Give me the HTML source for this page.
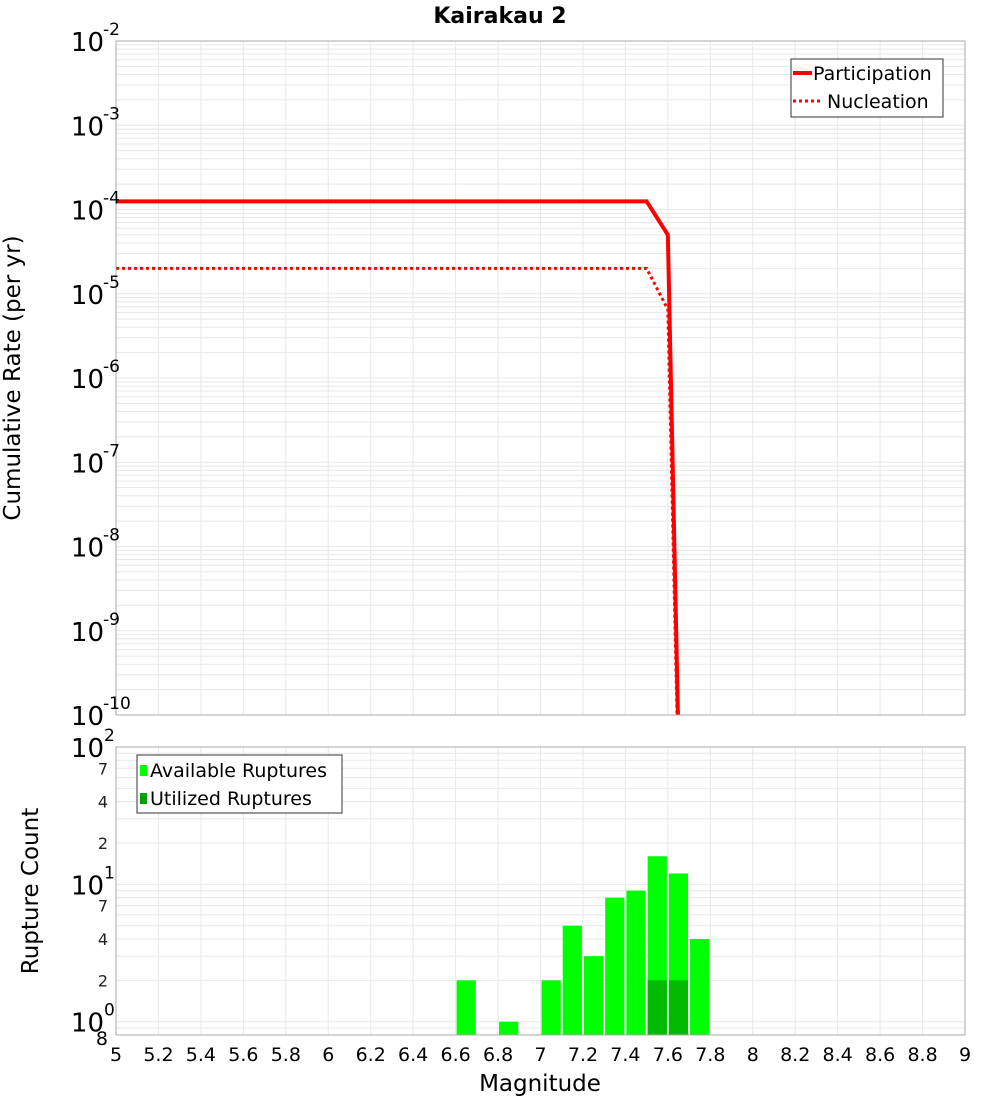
<!DOCTYPE html>
<html><head><meta charset="utf-8"><style>
html,body{margin:0;background:#fff;width:1000px;height:1100px;overflow:hidden;}
svg{display:block;font-family:"DejaVu Sans","Liberation Sans",sans-serif;overflow:hidden;}
</style></head><body>
<svg id="chart" width="1000" height="1100"></svg>
<script>
// ---- data ----
const magX = [5.0, 7.5, 7.6, 7.7];
const participation = [1.25e-4, 1.25e-4, 5.0e-5, 5e-17];
const nucleation = [2.0e-5, 2.0e-5, 6.5e-6, 5e-17];
const binStarts = [6.6, 6.8, 7.0, 7.1, 7.2, 7.3, 7.4, 7.5, 7.6, 7.7];
const available = [2, 1, 2, 5, 3, 8, 9, 16, 12, 4];
const utilBins = [7.5, 7.6];
const utilized = [2, 2];
const xTicks = [5,5.2,5.4,5.6,5.8,6,6.2,6.4,6.6,6.8,7,7.2,7.4,7.6,7.8,8,8.2,8.4,8.6,8.8,9];
const topExps = [-2,-3,-4,-5,-6,-7,-8,-9,-10];
const botMinor = [2,4,7];

const NS="http://www.w3.org/2000/svg";
const svg=document.getElementById('chart');
function el(tag,attrs,parent){const e=document.createElementNS(NS,tag);for(const k in attrs)e.setAttribute(k,attrs[k]);(parent||svg).appendChild(e);return e;}
const L=116,R=965,T1=41,B1=715,T2=747,B2=1035;
const x=m=>L+(m-5)/4*(R-L);
const yTop=v=>T1+(-2-Math.log10(v))/8*(B1-T1);
const yBot=v=>T2+(2-Math.log10(v))/(2-Math.log10(0.8))*(B2-T2);

let t=el('text',{x:500,y:23,'text-anchor':'middle','font-size':22,'font-weight':'bold'});t.textContent='Kairakau 2';


const defs=el('defs',{});
const c1=el('clipPath',{id:'c1'},defs);el('rect',{x:L,y:T1,width:R-L,height:B1-T1},c1);
const c2=el('clipPath',{id:'c2'},defs);el('rect',{x:L,y:T2,width:R-L,height:B2-T2},c2);

const g1=el('g',{'clip-path':'url(#c1)'});
for(let e=-10;e<-2;e++)for(let k=1;k<10;k++){const yy=yTop(k*Math.pow(10,e));el('line',{x1:L,x2:R,y1:yy,y2:yy,stroke:'#e8e8e8','stroke-width':1},g1);}
xTicks.forEach(m=>el('line',{x1:x(m),x2:x(m),y1:T1,y2:B1,stroke:'#e8e8e8'},g1));
const g2=el('g',{'clip-path':'url(#c2)'});
for(let e=-1;e<2;e++)for(let k=1;k<10;k++){const yy=yBot(k*Math.pow(10,e));el('line',{x1:L,x2:R,y1:yy,y2:yy,stroke:'#e8e8e8'},g2);}
xTicks.forEach(m=>el('line',{x1:x(m),x2:x(m),y1:T2,y2:B2,stroke:'#e8e8e8'},g2));

const lg=el('g',{'clip-path':'url(#c1)'});
let p=el('polyline',{points:magX.map((m,i)=>x(m)+','+yTop(participation[i])).join(' '),fill:'none',stroke:'#ff0000','stroke-width':4},lg);

let n=el('polyline',{points:magX.map((m,i)=>x(m)+','+yTop(nucleation[i])).join(' '),fill:'none',stroke:'#ff0000','stroke-width':3,'stroke-dasharray':'3,3'},lg);


const bg=el('g',{'clip-path':'url(#c2)'});
binStarts.forEach((m,i)=>{const r=el('rect',{x:x(m)+1,y:yBot(available[i]),width:x(m+0.1)-x(m)-2,height:B2-yBot(available[i]),fill:'#00ff00'},bg);
});
utilBins.forEach((m,i)=>{const r=el('rect',{x:x(m)+1,y:yBot(utilized[i]),width:x(m+0.1)-x(m)-2,height:B2-yBot(utilized[i]),fill:'#00bb00'},bg);
});

el('rect',{x:L,y:T1,width:R-L,height:B1-T1,fill:'none',stroke:'#aaa'});
el('rect',{x:L,y:T2,width:R-L,height:B2-T2,fill:'none',stroke:'#aaa'});

topExps.forEach(e=>{const yy=yTop(Math.pow(10,e));
 const tx=el('text',{x:104,y:yy+10,'text-anchor':'end','font-size':26});tx.textContent='10';
 
 const sp=el('text',{x:103,y:yy-6,'font-size':17});sp.textContent=String(e);
 });
[2,1,0].forEach(e=>{const yy=yBot(Math.pow(10,e));
 const tx=el('text',{x:104,y:yy+10,'text-anchor':'end','font-size':26});tx.textContent='10';
 
 const sp=el('text',{x:104,y:yy-6,'font-size':17});sp.textContent=String(e);
 });
[1,10].forEach(base=>botMinor.forEach(k=>{const yy=yBot(k*base);
 const tx=el('text',{x:108,y:yy+6,'text-anchor':'end','font-size':16,fill:'#222'});tx.textContent=String(k);
 }));
let e8=el('text',{x:108,y:B2+10,'text-anchor':'end','font-size':19});e8.textContent='8';


xTicks.forEach(m=>{const tx=el('text',{x:x(m),y:1061,'text-anchor':'middle','font-size':19});tx.textContent=String(m);
 });

let xt=el('text',{x:540,y:1091,'text-anchor':'middle','font-size':23});xt.textContent='Magnitude';

let yt=el('text',{x:0,y:0,'text-anchor':'middle','font-size':23,transform:'translate(26,378) rotate(-90)'});yt.textContent='Cumulative Rate (per yr)';

let yt2=el('text',{x:0,y:0,'text-anchor':'middle','font-size':23,transform:'translate(45,891) rotate(-90)'});yt2.textContent='Rupture Count';

yt.setAttribute('transform','translate(20,378) rotate(-90)');
yt2.setAttribute('transform','translate(38,891) rotate(-90)');

const lg1=el('g',{});
el('rect',{x:791,y:59,width:152,height:58,fill:'#fff',stroke:'#333'},lg1);
el('line',{x1:793,x2:812,y1:73,y2:73,stroke:'#f00','stroke-width':4},lg1);
el('line',{x1:793,x2:821,y1:101,y2:101,stroke:'#f00','stroke-width':3,'stroke-dasharray':'3,3'},lg1);
let l1=el('text',{x:813,y:80,'font-size':19},lg1);l1.textContent='Participation';

let l2=el('text',{x:827,y:108,'font-size':19},lg1);l2.textContent='Nucleation';

const lg2=el('g',{});
el('rect',{x:137,y:755,width:205,height:58,fill:'#fff',stroke:'#333'},lg2);
el('rect',{x:140,y:765,width:7,height:11,fill:'#00ff00'},lg2);
el('rect',{x:140,y:793,width:7,height:11,fill:'#00a000'},lg2);
let l3=el('text',{x:150,y:777,'font-size':19},lg2);l3.textContent='Available Ruptures';

let l4=el('text',{x:150,y:805,'font-size':19},lg2);l4.textContent='Utilized Ruptures';

</script>
</body></html>
